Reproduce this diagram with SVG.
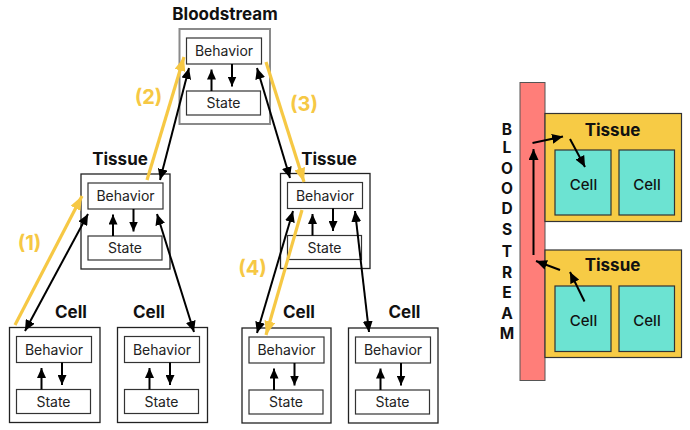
<svg xmlns="http://www.w3.org/2000/svg" width="690" height="430" viewBox="0 0 690 430">
<defs>
<style>
.title{font-family:Inter,"Liberation Sans",sans-serif;font-weight:700;font-size:17px;fill:#111;text-anchor:middle}
.inner{font-family:Inter,"Liberation Sans",sans-serif;font-size:14px;fill:#222;text-anchor:middle}
.outer{fill:#fff;stroke:#222;stroke-width:1.3}
.outer-gray{fill:#fff;stroke:#8a8a8a;stroke-width:2}
.ibox{fill:#fff;stroke:#333;stroke-width:1.2}
.blk{stroke:#000;stroke-width:2;fill:none}
.yel{stroke:#F6C844;stroke-width:3.2;fill:none}
.lbl{font-family:Inter,"Liberation Sans",sans-serif;font-weight:700;font-size:20px;fill:#F6C844;text-anchor:middle}
.rt{font-family:Inter,"Liberation Sans",sans-serif;font-weight:700;font-size:17px;fill:#111;text-anchor:middle}
.rc{font-family:Inter,"Liberation Sans",sans-serif;font-weight:500;font-size:15px;fill:#111;text-anchor:middle}
.vl{font-family:Inter,"Liberation Sans",sans-serif;font-weight:700;font-size:15.5px;fill:#111;text-anchor:middle}
</style>
<marker id="ah" viewBox="0 0 11 10" refX="11" refY="5" markerWidth="11" markerHeight="10" markerUnits="userSpaceOnUse" orient="auto-start-reverse">
<path d="M0,0 L11,5 L0,10 z" fill="#000"/>
</marker>
<marker id="ai" viewBox="0 0 10 9" refX="10" refY="4.5" markerWidth="10" markerHeight="9" markerUnits="userSpaceOnUse" orient="auto">
<path d="M0,0 L10,4.5 L0,9 z" fill="#000"/>
</marker>
<marker id="ay" viewBox="0 0 14 11" refX="14" refY="5.5" markerWidth="14" markerHeight="11" markerUnits="userSpaceOnUse" orient="auto">
<path d="M0,0 L14,5.5 L0,11 z" fill="#F6C844"/>
</marker>
<g id="inside">
<rect class="ibox" x="7" y="9" width="75" height="26"/>
<text class="inner" x="44.5" y="27">Behavior</text>
<rect class="ibox" x="7" y="62" width="74" height="24"/>
<text class="inner" x="44" y="79">State</text>
<line class="blk" x1="32" y1="62" x2="32" y2="40.5" marker-end="url(#ai)"/>
<line class="blk" x1="52.5" y1="35" x2="52.5" y2="57.5" marker-end="url(#ai)"/>
</g>
</defs>

<g id="bloodstream">
<text class="title" x="225" y="19.5">Bloodstream</text>
<g transform="translate(179.5,29)">
<rect class="outer-gray" x="0" y="0" width="90.5" height="95"/>
<use href="#inside"/>
</g>
</g>

<g id="tissue-left">
<text class="title" x="120" y="165">Tissue</text>
<g transform="translate(81,174)">
<rect class="outer" x="0" y="0" width="89" height="95"/>
<use href="#inside"/>
</g>
</g>

<g id="tissue-right">
<text class="title" x="329" y="165">Tissue</text>
<g transform="translate(280.5,173.5)">
<rect class="outer" x="0" y="0" width="89.5" height="95"/>
<use href="#inside"/>
</g>
</g>

<g id="cell-1">
<text class="title" x="71" y="318">Cell</text>
<g transform="translate(9.5,327.5)">
<rect class="outer" x="0" y="0" width="90.5" height="95"/>
<use href="#inside"/>
</g>
</g>

<g id="cell-2">
<text class="title" x="149" y="318">Cell</text>
<g transform="translate(117.5,327.5)">
<rect class="outer" x="0" y="0" width="90" height="95"/>
<use href="#inside"/>
</g>
</g>

<g id="cell-3">
<text class="title" x="299" y="318">Cell</text>
<g transform="translate(242,328)">
<rect class="outer" x="0" y="0" width="89" height="95"/>
<use href="#inside"/>
</g>
</g>

<g id="cell-4">
<text class="title" x="404.5" y="318">Cell</text>
<g transform="translate(348.5,328)">
<rect class="outer" x="0" y="0" width="89.5" height="95"/>
<use href="#inside"/>
</g>
</g>

<g id="connectors">
<line class="blk" x1="189" y1="68" x2="160" y2="180" marker-start="url(#ah)" marker-end="url(#ah)"/>
<line class="blk" x1="257" y1="68" x2="290" y2="178" marker-start="url(#ah)" marker-end="url(#ah)"/>
<line class="blk" x1="88" y1="214" x2="25" y2="331" marker-start="url(#ah)" marker-end="url(#ah)"/>
<line class="blk" x1="157" y1="214" x2="194" y2="332" marker-start="url(#ah)" marker-end="url(#ah)"/>
<line class="blk" x1="293" y1="211" x2="257" y2="333" marker-start="url(#ah)" marker-end="url(#ah)"/>
<line class="blk" x1="355" y1="211" x2="369" y2="332" marker-start="url(#ah)" marker-end="url(#ah)"/>
<line class="yel" x1="15" y1="325" x2="82" y2="196" marker-end="url(#ay)"/>
<line class="yel" x1="147" y1="180" x2="184" y2="57" marker-end="url(#ay)"/>
<line class="yel" x1="266" y1="62" x2="304" y2="182" marker-end="url(#ay)"/>
<line class="yel" x1="302" y1="210" x2="266" y2="335" marker-end="url(#ay)"/>
</g>
<g id="labels">
<text class="lbl" x="29.5" y="250">(1)</text>
<text class="lbl" x="148.5" y="104">(2)</text>
<text class="lbl" x="304" y="111">(3)</text>
<text class="lbl" x="252.5" y="275">(4)</text>
</g>

<g id="right-diagram">
<g id="bloodstream-bar">
<rect x="520" y="82.5" width="25" height="298" fill="#FF7E79" stroke="#555" stroke-width="1"/>
<text class="vl" x="507" y="134.5">B</text>
<text class="vl" x="507" y="153">L</text>
<text class="vl" x="507" y="174">O</text>
<text class="vl" x="507" y="193.5">O</text>
<text class="vl" x="507" y="213.5">D</text>
<text class="vl" x="507" y="235">S</text>
<text class="vl" x="507" y="256.5">T</text>
<text class="vl" x="507" y="277.5">R</text>
<text class="vl" x="507" y="297.5">E</text>
<text class="vl" x="507" y="319">A</text>
<text class="vl" x="507" y="338.5">M</text>
</g>
<g id="tissue-top">
<rect x="545" y="113.5" width="136.5" height="108" fill="#F7CB45" stroke="#333" stroke-width="1.2"/>
<text class="rt" x="612.5" y="135.5">Tissue</text>
<rect x="555" y="150" width="56" height="65" fill="#6CE3D2" stroke="#333" stroke-width="1.2"/>
<text class="rc" x="583.5" y="189.5">Cell</text>
<rect x="619" y="150" width="55.5" height="65" fill="#6CE3D2" stroke="#333" stroke-width="1.2"/>
<text class="rc" x="647" y="189.5">Cell</text>
</g>
<g id="tissue-bottom">
<rect x="545" y="250" width="136.5" height="107.5" fill="#F7CB45" stroke="#333" stroke-width="1.2"/>
<text class="rt" x="612.5" y="271">Tissue</text>
<rect x="555" y="286" width="56" height="65.5" fill="#6CE3D2" stroke="#333" stroke-width="1.2"/>
<text class="rc" x="583.5" y="325.5">Cell</text>
<rect x="619" y="286" width="55.5" height="65.5" fill="#6CE3D2" stroke="#333" stroke-width="1.2"/>
<text class="rc" x="647" y="325.5">Cell</text>
</g>
<g id="right-connectors">
<line class="blk" x1="533.5" y1="255" x2="533.5" y2="149" marker-end="url(#ah)"/>
<line class="blk" x1="532.5" y1="143" x2="563" y2="136.5" marker-end="url(#ah)"/>
<line class="blk" x1="570" y1="139" x2="585" y2="167" marker-end="url(#ah)"/>
<line class="blk" x1="560" y1="270" x2="536" y2="261" marker-end="url(#ah)"/>
<line class="blk" x1="584.5" y1="301.5" x2="570" y2="272" marker-end="url(#ah)"/>
</g>
</g>
</svg>
